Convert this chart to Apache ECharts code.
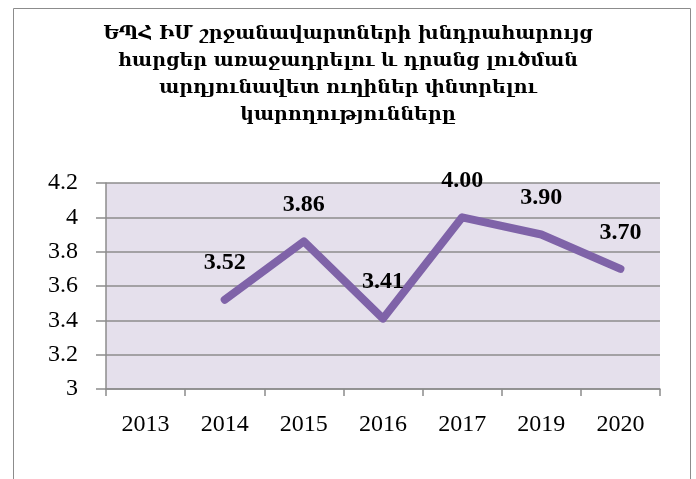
<!DOCTYPE html>
<html>
<head>
<meta charset="utf-8">
<script src="https://cdn.jsdelivr.net/npm/echarts@6/dist/echarts.min.js"></script>
<style>
  html, body { margin: 0; padding: 0; background: #fff; }
  #chart { width: 696px; height: 479px; }
</style>
</head>
<body>
<div id="chart"></div>
<script>
// data
var years = ['2013', '2014', '2015', '2016', '2017', '2019', '2020'];
var scores = [null, 3.52, 3.86, 3.41, 4.00, 3.90, 3.70];
var titleLines = [
  'ԵՊՀ ԻՄ շրջանավարտների խնդրահարույց',
  'հարցեր առաջադրելու և դրանց լուծման',
  'արդյունավետ ուղիներ փնտրելու',
  'կարողությունները'
];

var chart = echarts.init(document.getElementById('chart'));

var option = {
  animation: false,
  title: {
    text: titleLines.join('\n'),
    left: 'center',
    top: 16,
    textStyle: {
      fontFamily: 'DejaVu Serif',
      fontWeight: 'bold',
      fontSize: 19,
      lineHeight: 27,
      color: '#000'
    }
  },
  graphic: [{
    type: 'rect',
    shape: { x: 13.5, y: 8.5, width: 677, height: 520 },
    style: { fill: 'none', stroke: '#8c8c8c', lineWidth: 1 }
  }],
  grid: {
    left: 106, right: 36, top: 183, bottom: 90,
    show: true,
    backgroundColor: '#e5e0ec',
    borderWidth: 0
  },
  xAxis: {
    type: 'category',
    data: years,
    boundaryGap: true,
    axisLine: { lineStyle: { color: '#8c8c8c', width: 1.5 } },
    axisTick: { show: true, length: 7, lineStyle: { color: '#8c8c8c', width: 1.5 } },
    axisLabel: {
      margin: 24,
      fontFamily: 'Liberation Serif',
      fontSize: 24,
      color: '#000'
    }
  },
  yAxis: {
    type: 'value',
    min: 3, max: 4.2, interval: 0.2,
    axisLine: { show: true, lineStyle: { color: '#8c8c8c', width: 1.5 } },
    axisTick: { show: true, length: 10, lineStyle: { color: '#8c8c8c', width: 1.5 } },
    splitLine: { lineStyle: { color: '#8c8c8c', width: 1.5 } },
    axisLabel: {
      margin: 28,
      fontFamily: 'Liberation Serif',
      fontSize: 24,
      color: '#000',
      formatter: function (v) { return String(Math.round(v * 10) / 10); }
    }
  },
  series: [{
    type: 'line',
    data: scores,
    connectNulls: false,
    symbol: 'circle',
    symbolSize: 1,
    itemStyle: { color: '#7f63a8' },
    lineStyle: { color: '#7f63a8', width: 8, cap: 'round', join: 'round' },
    label: {
      show: true,
      position: 'top',
      distance: 24,
      fontFamily: 'Liberation Serif',
      fontWeight: 'bold',
      fontSize: 24,
      color: '#000',
      formatter: function (p) { return p.value == null ? '' : p.value.toFixed(2); }
    }
  }]
};

chart.setOption(option);
</script>
</body>
</html>
